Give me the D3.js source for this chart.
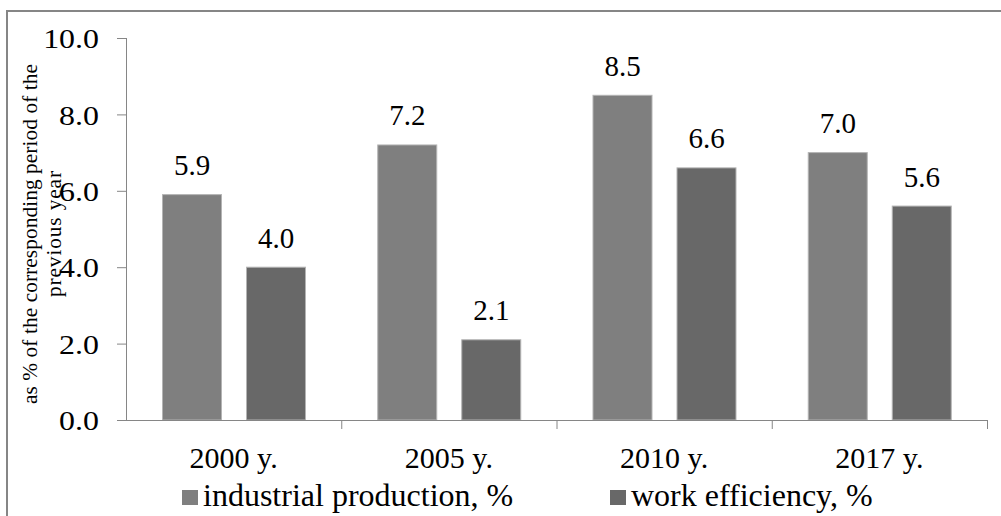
<!DOCTYPE html>
<html>
<head>
<meta charset="utf-8">
<script src="https://cdn.jsdelivr.net/npm/d3@7"></script>
<style>
  html, body { margin: 0; padding: 0; background: #fff; }
  svg { display: block; }
  text { font-family: "Liberation Serif", "Times New Roman", serif; fill: #000; }
</style>
</head>
<body>
<svg id="chart" width="1001" height="516"></svg>
<script>
// Annual growth, % of the corresponding period of the previous year
const categories = ["2000 y.", "2005 y.", "2010 y.", "2017 y."];
const seriesNames = ["industrial production, %", "work efficiency, %"];
const industrialProduction = [5.9, 7.2, 8.5, 7.0];
const workEfficiency = [4.0, 2.1, 6.6, 5.6];
const yTicks = [0, 2, 4, 6, 8, 10];
const yTitleLines = ["as % of the corresponding period of the", "previous year"];

const seriesValues = [industrialProduction, workEfficiency];
const colors = ["#7f7f7f", "#686868"];
const axisColor = "#868686";
const serif = "'Liberation Serif', 'Times New Roman', serif";

const svg = d3.select("#chart");

// outer chart frame (continues past the visible area on the right and bottom)
svg.append("rect")
  .attr("x", 7).attr("y", 11)
  .attr("width", 1100).attr("height", 600)
  .attr("fill", "none")
  .attr("stroke", axisColor)
  .attr("stroke-width", 2);

const plot = { left: 126, right: 987, top: 38, bottom: 420 };

const x = d3.scaleBand()
  .domain(categories)
  .range([plot.left, plot.right])
  .paddingInner(0).paddingOuter(0);

const xs = d3.scaleBand()
  .domain(d3.range(seriesNames.length))
  .range([36.5, 179.5])
  .paddingInner(25 / 84).paddingOuter(0);

const y = d3.scaleLinear().domain([0, 10]).range([plot.bottom, plot.top]);

// bars
const rows = categories.map((c, i) => ({ cat: c, vals: seriesValues.map(s => s[i]) }));
const groups = svg.append("g").selectAll("g")
  .data(rows).join("g")
  .attr("transform", d => `translate(${x(d.cat)},0)`);

groups.selectAll("rect")
  .data(d => d.vals.map((v, k) => ({ v, k })))
  .join("rect")
  .attr("x", d => xs(d.k))
  .attr("y", d => y(d.v))
  .attr("width", xs.bandwidth())
  .attr("height", d => y(0) - y(d.v))
  .attr("fill", d => colors[d.k])
  .attr("stroke", "#b4b4b4")
  .attr("stroke-width", 1);

groups.selectAll("text.val")
  .data(d => d.vals.map((v, k) => ({ v, k })))
  .join("text")
  .attr("class", "val")
  .attr("x", d => xs(d.k) + xs.bandwidth() / 2)
  .attr("y", d => y(d.v) - 19.5)
  .attr("text-anchor", "middle")
  .style("font-family", serif)
  .style("font-size", "29px")
  .text(d => d3.format(".1f")(d.v));

// y axis
const yAxis = svg.append("g")
  .attr("transform", `translate(${plot.left},0)`)
  .call(d3.axisLeft(y).tickValues(yTicks).tickSize(9).tickPadding(0).tickFormat(d3.format(".1f")));
yAxis.attr("font-family", null);
yAxis.select(".domain").attr("stroke", axisColor).attr("d", `M0.5,${plot.top}V${plot.bottom}`);
yAxis.selectAll(".tick line").attr("stroke", axisColor);
yAxis.selectAll(".tick text")
  .attr("x", null)
  .attr("dy", null)
  .attr("text-anchor", "end")
  .attr("dominant-baseline", "central")
  .attr("transform", "translate(-27,0) scale(1.14,1)")
  .style("font-family", serif)
  .style("font-size", "28px")
  .attr("fill", "#000");

// x axis
const xAxis = svg.append("g")
  .attr("transform", `translate(0,${plot.bottom})`)
  .call(d3.axisBottom(x).tickSize(0).tickPadding(0));
xAxis.attr("font-family", null);
xAxis.select(".domain").attr("stroke", axisColor).attr("d", `M${plot.left},0.5H${plot.right}`);
xAxis.selectAll(".tick text")
  .attr("y", 48)
  .attr("dy", null)
  .style("font-family", serif)
  .style("font-size", "30px")
  .attr("fill", "#000");

// category separators below the axis
svg.append("g").selectAll("line")
  .data(categories.slice(1).concat(["end"]))
  .join("line")
  .attr("x1", (d, i) => i < categories.length - 1 ? x(d) + 0.5 : plot.right + 0.5)
  .attr("x2", (d, i) => i < categories.length - 1 ? x(d) + 0.5 : plot.right + 0.5)
  .attr("y1", plot.bottom).attr("y2", plot.bottom + 9)
  .attr("stroke", axisColor);

// y axis title, two lines
const yTitleWidths = [340, 126];
const yTitle = svg.append("text")
  .attr("transform", "translate(0,234) rotate(-90)")
  .attr("text-anchor", "middle")
  .style("font-family", serif)
  .style("font-size", "21.3px");
yTitle.selectAll("tspan")
  .data(yTitleLines)
  .join("tspan")
  .attr("x", 0)
  .attr("y", (d, i) => 37 + i * 24)
  .attr("textLength", (d, i) => yTitleWidths[i])
  .attr("lengthAdjust", "spacing")
  .text(d => d);

// legend
const legendX = [182, 610];
const legend = svg.append("g").selectAll("g")
  .data(seriesNames)
  .join("g")
  .attr("transform", (d, i) => `translate(${legendX[i]},0)`);
legend.append("rect")
  .attr("x", 0).attr("y", 490)
  .attr("width", 16).attr("height", 15)
  .attr("fill", (d, i) => colors[i]);
legend.append("text")
  .attr("x", 21).attr("y", 506)
  .style("font-family", serif)
  .style("font-size", "32px")
  .text(d => d);
</script>
</body>
</html>
